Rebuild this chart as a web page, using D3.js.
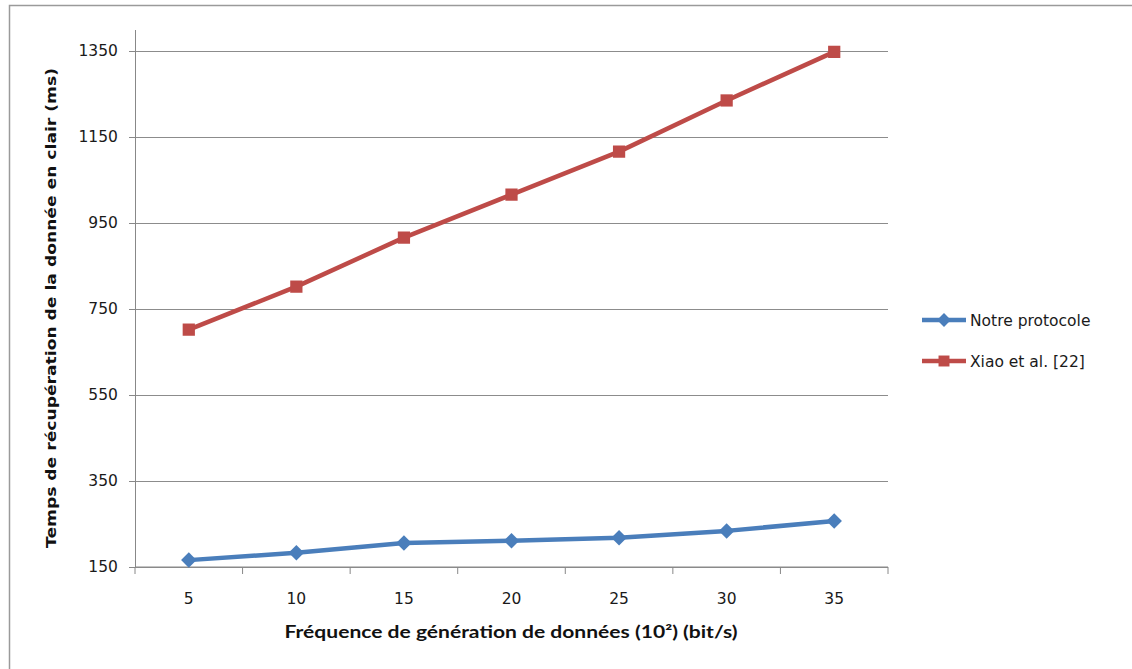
<!DOCTYPE html>
<html>
<head>
<meta charset="utf-8">
<script src="https://cdn.jsdelivr.net/npm/d3@7"></script>
<style>
  body { margin: 0; background: #fff; }
  svg { display: block; }
  .tick text { font-family: "DejaVu Sans", sans-serif; font-size: 15.5px; fill: #1a1a1a; }
  .axis path, .axis line { stroke: #888; }
  .grid line { stroke: #8c8c8c; }
  .grid path { display: none; }
</style>
</head>
<body>
<svg id="chart" width="1132" height="669"></svg>
<script>
const categories = [5, 10, 15, 20, 25, 30, 35];
const notreProtocole = [166, 183, 206, 211, 218, 234, 257];
const xiao = [702, 802, 916, 1016, 1116, 1235, 1348];
const yTicks = [150, 350, 550, 750, 950, 1150, 1350];
const seriesNames = ["Notre protocole", "Xiao et al. [22]"];

const margin = { top: 29.5, left: 135, right: 244, bottom: 102 };
const width = 1132 - margin.left - margin.right;
const height = 669 - margin.top - margin.bottom;

const svg = d3.select("#chart");

// outer frame (only left and top visible in the picture)
svg.append("path")
  .attr("d", "M9.5,669 V5.5 H1132")
  .attr("fill", "none")
  .attr("stroke", "#9a9a9a")
  .attr("stroke-width", 1.5);

const g = svg.append("g").attr("transform", `translate(${margin.left},${margin.top})`);

const xScale = d3.scaleBand().domain(categories).range([0, width]);
const yScale = d3.scaleLinear().domain([150, 1400]).range([height, 0]);

g.append("g")
  .attr("class", "grid")
  .call(d3.axisLeft(yScale).tickValues(yTicks).tickSize(-width).tickFormat(""));

g.append("g")
  .attr("class", "axis axis-y")
  .call(d3.axisLeft(yScale).tickValues(yTicks).tickFormat(d3.format("d")).tickSize(6).tickPadding(8).tickSizeOuter(0))
  .call(a => a.selectAll(".tick text").attr("dx", "-0.2em"));

// x axis: ticks at band boundaries, labels at centres
const xAxis = g.append("g")
  .attr("class", "axis axis-x")
  .attr("transform", `translate(0,${height})`);
xAxis.append("line").attr("x1", 0).attr("x2", width).attr("stroke", "#888");
const bounds = d3.range(categories.length + 1).map(i => i * xScale.step());
xAxis.selectAll(".bound").data(bounds).join("line")
  .attr("class", "bound")
  .attr("x1", d => d).attr("x2", d => d)
  .attr("y1", 0).attr("y2", 7)
  .attr("stroke", "#888");
xAxis.selectAll(".lbl").data(categories).join("text")
  .attr("x", d => xScale(d) + xScale.bandwidth() / 2)
  .attr("y", 37)
  .attr("text-anchor", "middle")
  .attr("font-family", "DejaVu Sans, sans-serif")
  .attr("font-size", "15.5px")
  .attr("fill", "#1a1a1a")
  .text(d => d);

const cx = d => xScale(d) + xScale.bandwidth() / 2;
const line = d3.line().x((d, i) => cx(categories[i])).y(d => yScale(d));

const colors = ["#4a7ebb", "#be4b48"];
// diamond = square turned 45 degrees
const rotations = [45, 0];
const symSizes = [120, 150];
const data = [notreProtocole, xiao];

data.forEach((vals, s) => {
  g.append("path")
    .datum(vals)
    .attr("fill", "none")
    .attr("stroke", colors[s])
    .attr("stroke-width", 4.5)
    .attr("stroke-linejoin", "round")
    .attr("d", line);
  g.selectAll(".m" + s).data(vals).join("path")
    .attr("transform", (d, i) => `translate(${cx(categories[i])},${yScale(d)}) rotate(${rotations[s]})`)
    .attr("d", d3.symbol(d3.symbolSquare, symSizes[s]))
    .attr("fill", colors[s]);
});

// axis titles
svg.append("text")
  .attr("x", 511)
  .attr("y", 638)
  .attr("text-anchor", "middle")
  .attr("font-family", "Lato, sans-serif")
  .attr("font-weight", "bold")
  .attr("font-size", "16.5px")
  .attr("fill", "#111")
  .attr("textLength", 453)
  .attr("lengthAdjust", "spacingAndGlyphs")
  .text("Fréquence de génération de données (10²) (bit/s)");

svg.append("text")
  .attr("transform", "translate(56,308) rotate(-90)")
  .attr("text-anchor", "middle")
  .attr("font-family", "DejaVu Sans, sans-serif")
  .attr("font-weight", "bold")
  .attr("font-size", "14.5px")
  .attr("fill", "#111")
  .attr("textLength", 480)
  .attr("lengthAdjust", "spacingAndGlyphs")
  .text("Temps  de récupération de la donnée en clair (ms)");

// legend
const legend = svg.append("g").attr("transform", "translate(922,320)");
seriesNames.forEach((name, s) => {
  const row = legend.append("g").attr("transform", `translate(0,${s * 41})`);
  row.append("line").attr("x1", 0).attr("x2", 44)
    .attr("stroke", colors[s]).attr("stroke-width", 4.5);
  row.append("path")
    .attr("transform", `translate(22,0) rotate(${rotations[s]})`)
    .attr("d", d3.symbol(d3.symbolSquare, symSizes[s] * 0.8))
    .attr("fill", colors[s]);
  row.append("text")
    .attr("x", 48).attr("y", 5.5)
    .attr("font-family", "DejaVu Sans, sans-serif")
    .attr("font-size", "15.5px")
    .attr("fill", "#1a1a1a")
    .text(name);
});
</script>
</body>
</html>
